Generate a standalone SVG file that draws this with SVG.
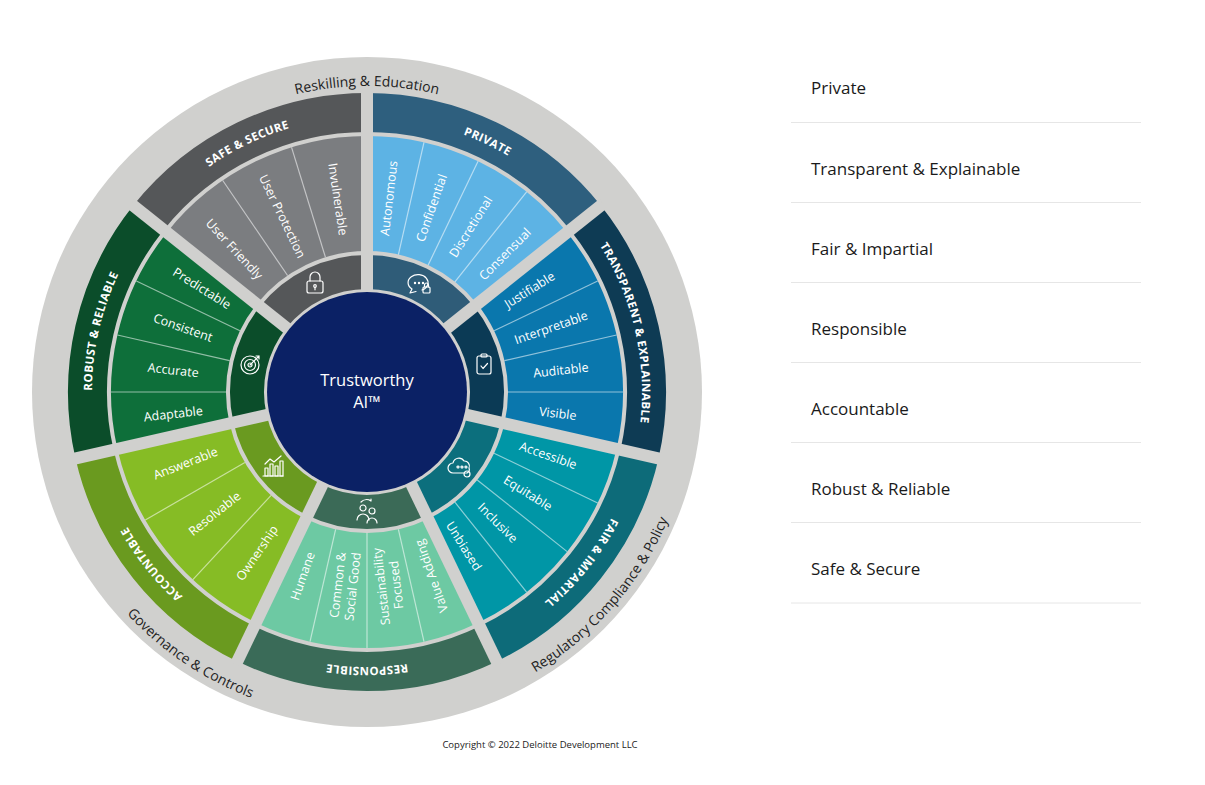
<svg xmlns="http://www.w3.org/2000/svg" width="1205" height="785" viewBox="0 0 1205 785">
<style>
.ring{fill:none}
.sub{font-family:"Open Sans",sans-serif;font-size:12.5px;fill:#fff;text-anchor:middle}
.band{font-family:"Open Sans",sans-serif;font-size:11.5px;font-weight:bold;fill:#fff;letter-spacing:0.4px}
.gr{font-family:"Open Sans",sans-serif;font-size:14px;fill:#222}
.div{stroke:#fff;stroke-opacity:0.55;stroke-width:1.2}
.gap{stroke:#d0d0ce;stroke-width:12}
.ic{fill:none;stroke:#fff;stroke-width:1.2;stroke-linecap:round;stroke-linejoin:round}
.lst{font-family:"Open Sans",sans-serif;font-size:17px;fill:#1a1a1a}
.sep{stroke:#e6e6e6;stroke-width:1}
</style>
<defs>
<path id="b0" d="M367,117 A275,275 0 0 1 582,220.5"/>
<path id="b1" d="M582,220.5 A275,275 0 0 1 635.1,453.2"/>
<path id="b2" d="M635.1,453.2 A275,275 0 0 1 486.3,639.8"/>
<path id="b3" d="M486.3,639.8 A275,275 0 0 1 247.7,639.8"/>
<path id="b4" d="M247.7,639.8 A275,275 0 0 1 98.9,453.2"/>
<path id="b5" d="M98.9,453.2 A275,275 0 0 1 152,220.5"/>
<path id="b6" d="M152,220.5 A275,275 0 0 1 367,117"/>
<path id="gtop" d="M170.3,157.6 A306,306 0 0 1 563.7,157.6"/>
<path id="gbot" d="M59.7,503.8 A327,327 0 0 0 674.3,503.8"/>
</defs>
<rect width="1205" height="785" fill="#fff"/>
<circle cx="367" cy="392" r="335" fill="#d0d0ce"/>

<g id="seg-private">
<circle class="ring" cx="367" cy="392" r="279.5" stroke="#2e5f7e" stroke-width="39" pathLength="360" stroke-dasharray="51.43 308.57" transform="rotate(-90 367 392)"/>
<circle class="ring" cx="367" cy="392" r="198.5" stroke="#5db3e4" stroke-width="115" pathLength="360" stroke-dasharray="51.43 308.57" transform="rotate(-90 367 392)"/>
<circle class="ring" cx="367" cy="392" r="120" stroke="#2f5c78" stroke-width="34" pathLength="360" stroke-dasharray="51.43 308.57" transform="rotate(-90 367 392)"/>
</g>
<g id="seg-transparent">
<circle class="ring" cx="367" cy="392" r="279.5" stroke="#0e3b54" stroke-width="39" pathLength="360" stroke-dasharray="51.43 308.57" transform="rotate(-38.57 367 392)"/>
<circle class="ring" cx="367" cy="392" r="198.5" stroke="#0a77ad" stroke-width="115" pathLength="360" stroke-dasharray="51.43 308.57" transform="rotate(-38.57 367 392)"/>
<circle class="ring" cx="367" cy="392" r="120" stroke="#0b3a55" stroke-width="34" pathLength="360" stroke-dasharray="51.43 308.57" transform="rotate(-38.57 367 392)"/>
</g>
<g id="seg-fair">
<circle class="ring" cx="367" cy="392" r="279.5" stroke="#0d6b79" stroke-width="39" pathLength="360" stroke-dasharray="51.43 308.57" transform="rotate(12.86 367 392)"/>
<circle class="ring" cx="367" cy="392" r="198.5" stroke="#0096a6" stroke-width="115" pathLength="360" stroke-dasharray="51.43 308.57" transform="rotate(12.86 367 392)"/>
<circle class="ring" cx="367" cy="392" r="120" stroke="#0c6f7d" stroke-width="34" pathLength="360" stroke-dasharray="51.43 308.57" transform="rotate(12.86 367 392)"/>
</g>
<g id="seg-responsible">
<circle class="ring" cx="367" cy="392" r="279.5" stroke="#3a6b58" stroke-width="39" pathLength="360" stroke-dasharray="51.43 308.57" transform="rotate(64.29 367 392)"/>
<circle class="ring" cx="367" cy="392" r="198.5" stroke="#6dc9a3" stroke-width="115" pathLength="360" stroke-dasharray="51.43 308.57" transform="rotate(64.29 367 392)"/>
<circle class="ring" cx="367" cy="392" r="120" stroke="#3b6a57" stroke-width="34" pathLength="360" stroke-dasharray="51.43 308.57" transform="rotate(64.29 367 392)"/>
</g>
<g id="seg-accountable">
<circle class="ring" cx="367" cy="392" r="279.5" stroke="#6a9a1f" stroke-width="39" pathLength="360" stroke-dasharray="51.43 308.57" transform="rotate(115.71 367 392)"/>
<circle class="ring" cx="367" cy="392" r="198.5" stroke="#86bc25" stroke-width="115" pathLength="360" stroke-dasharray="51.43 308.57" transform="rotate(115.71 367 392)"/>
<circle class="ring" cx="367" cy="392" r="120" stroke="#6a9a20" stroke-width="34" pathLength="360" stroke-dasharray="51.43 308.57" transform="rotate(115.71 367 392)"/>
</g>
<g id="seg-robust">
<circle class="ring" cx="367" cy="392" r="279.5" stroke="#0b4d2a" stroke-width="39" pathLength="360" stroke-dasharray="51.43 308.57" transform="rotate(167.14 367 392)"/>
<circle class="ring" cx="367" cy="392" r="198.5" stroke="#0e6f3a" stroke-width="115" pathLength="360" stroke-dasharray="51.43 308.57" transform="rotate(167.14 367 392)"/>
<circle class="ring" cx="367" cy="392" r="120" stroke="#0b4d2a" stroke-width="34" pathLength="360" stroke-dasharray="51.43 308.57" transform="rotate(167.14 367 392)"/>
</g>
<g id="seg-safe">
<circle class="ring" cx="367" cy="392" r="279.5" stroke="#555759" stroke-width="39" pathLength="360" stroke-dasharray="51.43 308.57" transform="rotate(218.57 367 392)"/>
<circle class="ring" cx="367" cy="392" r="198.5" stroke="#7b7d80" stroke-width="115" pathLength="360" stroke-dasharray="51.43 308.57" transform="rotate(218.57 367 392)"/>
<circle class="ring" cx="367" cy="392" r="120" stroke="#555759" stroke-width="34" pathLength="360" stroke-dasharray="51.43 308.57" transform="rotate(218.57 367 392)"/>
</g>

<g id="dividers">
<line class="div" x1="367" y1="251" x2="367" y2="136" transform="rotate(12.86 367 392)"/>
<line class="div" x1="367" y1="251" x2="367" y2="136" transform="rotate(25.71 367 392)"/>
<line class="div" x1="367" y1="251" x2="367" y2="136" transform="rotate(38.57 367 392)"/>
<line class="div" x1="367" y1="251" x2="367" y2="136" transform="rotate(64.29 367 392)"/>
<line class="div" x1="367" y1="251" x2="367" y2="136" transform="rotate(77.14 367 392)"/>
<line class="div" x1="367" y1="251" x2="367" y2="136" transform="rotate(90 367 392)"/>
<line class="div" x1="367" y1="251" x2="367" y2="136" transform="rotate(115.71 367 392)"/>
<line class="div" x1="367" y1="251" x2="367" y2="136" transform="rotate(128.57 367 392)"/>
<line class="div" x1="367" y1="251" x2="367" y2="136" transform="rotate(141.43 367 392)"/>
<line class="div" x1="367" y1="251" x2="367" y2="136" transform="rotate(167.14 367 392)"/>
<line class="div" x1="367" y1="251" x2="367" y2="136" transform="rotate(180 367 392)"/>
<line class="div" x1="367" y1="251" x2="367" y2="136" transform="rotate(192.86 367 392)"/>
<line class="div" x1="367" y1="251" x2="367" y2="136" transform="rotate(222.86 367 392)"/>
<line class="div" x1="367" y1="251" x2="367" y2="136" transform="rotate(240 367 392)"/>
<line class="div" x1="367" y1="251" x2="367" y2="136" transform="rotate(270 367 392)"/>
<line class="div" x1="367" y1="251" x2="367" y2="136" transform="rotate(282.86 367 392)"/>
<line class="div" x1="367" y1="251" x2="367" y2="136" transform="rotate(295.71 367 392)"/>
<line class="div" x1="367" y1="251" x2="367" y2="136" transform="rotate(325.71 367 392)"/>
<line class="div" x1="367" y1="251" x2="367" y2="136" transform="rotate(342.86 367 392)"/>
</g>

<g id="gaps">
<line class="gap" x1="367" y1="392" x2="367" y2="90"/>
<line class="gap" x1="367" y1="392" x2="367" y2="90" transform="rotate(51.43 367 392)"/>
<line class="gap" x1="367" y1="392" x2="367" y2="90" transform="rotate(102.86 367 392)"/>
<line class="gap" x1="367" y1="392" x2="367" y2="90" transform="rotate(154.29 367 392)"/>
<line class="gap" x1="367" y1="392" x2="367" y2="90" transform="rotate(205.71 367 392)"/>
<line class="gap" x1="367" y1="392" x2="367" y2="90" transform="rotate(257.14 367 392)"/>
<line class="gap" x1="367" y1="392" x2="367" y2="90" transform="rotate(308.57 367 392)"/>
</g>

<g id="center">
<circle cx="367" cy="392" r="100" fill="#0b2165"/>
<text x="367" y="386" font-family="Open Sans, sans-serif" font-size="16.5" fill="#fff" text-anchor="middle">Trustworthy</text>
<text x="367" y="408" font-family="Open Sans, sans-serif" font-size="16.5" fill="#fff" text-anchor="middle">AI™</text>
</g>

<g id="sub-labels">
<text class="sub" dy=".35em" transform="rotate(6.43 367 392) translate(367 197) rotate(-90)">Autonomous</text>
<text class="sub" dy=".35em" transform="rotate(19.29 367 392) translate(367 197) rotate(-90)">Confidential</text>
<text class="sub" dy=".35em" transform="rotate(32.14 367 392) translate(367 197) rotate(-90)">Discretional</text>
<text class="sub" dy=".35em" transform="rotate(45 367 392) translate(367 197) rotate(-90)">Consensual</text>
<text class="sub" dy=".35em" transform="rotate(57.86 367 392) translate(367 200) rotate(-90)">Justifiable</text>
<text class="sub" dy=".35em" transform="rotate(70.71 367 392) translate(367 197) rotate(-90)">Interpretable</text>
<text class="sub" dy=".35em" transform="rotate(83.57 367 392) translate(367 197) rotate(-90)">Auditable</text>
<text class="sub" dy=".35em" transform="rotate(96.43 367 392) translate(367 200) rotate(-90)">Visible</text>
<text class="sub" dy=".35em" transform="rotate(109.29 367 392) translate(367 200) rotate(-90)">Accessible</text>
<text class="sub" dy=".35em" transform="rotate(122.14 367 392) translate(367 202) rotate(-90)">Equitable</text>
<text class="sub" dy=".35em" transform="rotate(135 367 392) translate(367 207) rotate(-90)">Inclusive</text>
<text class="sub" dy=".35em" transform="rotate(147.86 367 392) translate(367 210) rotate(-90)">Unbiased</text>
<text class="sub" dy=".35em" transform="rotate(160.71 367 392) translate(367 197) rotate(90)">Value Adding</text>
<text class="sub" transform="rotate(173.57 367 392) translate(367 197) rotate(90)"><tspan x="0" dy="-0.25em">Sustainability</tspan><tspan x="0" dy="1.2em">Focused</tspan></text>
<text class="sub" transform="rotate(186.43 367 392) translate(367 197) rotate(90)"><tspan x="0" dy="-0.25em">Common &amp;</tspan><tspan x="0" dy="1.2em">Social Good</tspan></text>
<text class="sub" dy=".35em" transform="rotate(199.29 367 392) translate(367 197) rotate(90)">Humane</text>
<text class="sub" dy=".35em" transform="rotate(214.29 367 392) translate(367 197) rotate(90)">Ownership</text>
<text class="sub" dy=".35em" transform="rotate(231.43 367 392) translate(367 197) rotate(90)">Resolvable</text>
<text class="sub" dy=".35em" transform="rotate(248.57 367 392) translate(367 197) rotate(90)">Answerable</text>
<text class="sub" dy=".35em" transform="rotate(263.57 367 392) translate(367 197) rotate(90)">Adaptable</text>
<text class="sub" dy=".35em" transform="rotate(276.43 367 392) translate(367 197) rotate(90)">Accurate</text>
<text class="sub" dy=".35em" transform="rotate(289.29 367 392) translate(367 197) rotate(90)">Consistent</text>
<text class="sub" dy=".35em" transform="rotate(302.14 367 392) translate(367 197) rotate(90)">Predictable</text>
<text class="sub" dy=".35em" transform="rotate(317.14 367 392) translate(367 197) rotate(90)">User Friendly</text>
<text class="sub" dy=".35em" transform="rotate(334.29 367 392) translate(367 197) rotate(90)">User Protection</text>
<text class="sub" dy=".35em" transform="rotate(351.43 367 392) translate(367 197) rotate(90)">Invulnerable</text>
</g>

<g id="band-labels">
<text class="band"><textPath href="#b0" startOffset="50%" text-anchor="middle">PRIVATE</textPath></text>
<text class="band"><textPath href="#b1" startOffset="50%" text-anchor="middle">TRANSPARENT &amp; EXPLAINABLE</textPath></text>
<text class="band"><textPath href="#b2" startOffset="50%" text-anchor="middle">FAIR &amp; IMPARTIAL</textPath></text>
<text class="band"><textPath href="#b3" startOffset="50%" text-anchor="middle">RESPONSIBLE</textPath></text>
<text class="band"><textPath href="#b4" startOffset="50%" text-anchor="middle">ACCOUNTABLE</textPath></text>
<text class="band"><textPath href="#b5" startOffset="50%" text-anchor="middle">ROBUST &amp; RELIABLE</textPath></text>
<text class="band"><textPath href="#b6" startOffset="50%" text-anchor="middle">SAFE &amp; SECURE</textPath></text>
</g>

<g id="ring-labels">
<text class="gr"><textPath href="#gtop" startOffset="50%" text-anchor="middle">Reskilling &amp; Education</textPath></text>
<text class="gr"><textPath href="#gbot" startOffset="25.7%" text-anchor="middle">Governance &amp; Controls</textPath></text>
<text class="gr"><textPath href="#gbot" startOffset="85%" text-anchor="middle">Regulatory Compliance &amp; Policy</textPath></text>
</g>

<g id="icons">
<g class="ic" transform="translate(315 284)"><rect x="-8" y="-3" width="16" height="12" rx="2"/><path d="M-5,-3 v-4 a5,5 0 0 1 10,0 v4"/><circle cx="0" cy="2" r="1.3"/><path d="M0,3.3 v2.5"/></g>
<g class="ic" transform="translate(419 284)"><path d="M3,6 A10,8 0 1 0 -7,5 L-9,9 L-3,7.5"/><circle cx="-4" cy="-1" r="0.6"/><circle cx="0" cy="-1" r="0.6"/><circle cx="4" cy="-1" r="0.6"/><rect x="4" y="3" width="7" height="6" rx="1"/><path d="M5.5,3 v-2 a2,2 0 0 1 4,0 v2"/></g>
<g class="ic" transform="translate(484 365)"><rect x="-7" y="-9" width="14" height="18" rx="2"/><rect x="-3" y="-11" width="6" height="3" rx="1"/><path d="M-3,1 l2,2.5 l4.5,-5"/></g>
<g class="ic" transform="translate(461 467)"><path d="M-8,6 a5,5 0 0 1 0,-10 a6,6 0 0 1 11,-2 a5,5 0 0 1 5,7 a4,4 0 0 1 -2,5 z"/><circle cx="-3" cy="0" r="1"/><circle cx="1" cy="0" r="1"/><circle cx="5" cy="0" r="1"/><circle cx="6" cy="7" r="3"/></g>
<g class="ic" transform="translate(367 512)"><circle cx="-4" cy="-4" r="3"/><path d="M-10,8 a6,6 0 0 1 12,0"/><circle cx="5" cy="-1" r="3"/><path d="M0,11 a5,5 0 0 1 10,0"/><path d="M-6,-10 a8,8 0 0 1 10,-1 l0,-2"/></g>
<g class="ic" transform="translate(273 467)"><path d="M-10,9 h20"/><rect x="-8" y="1" width="3" height="8"/><rect x="-3" y="-3" width="3" height="12"/><rect x="2" y="-1" width="3" height="10"/><rect x="7" y="-6" width="3" height="15"/><path d="M-8,-3 l5,-5 l4,3 l7,-6"/></g>
<g class="ic" transform="translate(250 365)"><circle r="9"/><circle r="5.5"/><circle r="2"/><path d="M0,0 l9,-9 m0,0 h-3 m3,0 v3"/></g>
</g>

<text x="540" y="748" font-family="Open Sans, sans-serif" font-size="9.5" fill="#222" text-anchor="middle">Copyright © 2022 Deloitte Development LLC</text>

<g id="legend">
<text class="lst" x="811" y="94">Private</text>
<line class="sep" x1="791" y1="122.5" x2="1141" y2="122.5"/>
<text class="lst" x="811" y="175">Transparent &amp; Explainable</text>
<line class="sep" x1="791" y1="202.5" x2="1141" y2="202.5"/>
<text class="lst" x="811" y="255">Fair &amp; Impartial</text>
<line class="sep" x1="791" y1="282.5" x2="1141" y2="282.5"/>
<text class="lst" x="811" y="335">Responsible</text>
<line class="sep" x1="791" y1="362.5" x2="1141" y2="362.5"/>
<text class="lst" x="811" y="415">Accountable</text>
<line class="sep" x1="791" y1="442.5" x2="1141" y2="442.5"/>
<text class="lst" x="811" y="495">Robust &amp; Reliable</text>
<line class="sep" x1="791" y1="522.5" x2="1141" y2="522.5"/>
<text class="lst" x="811" y="575">Safe &amp; Secure</text>
<line class="sep" x1="791" y1="603" x2="1141" y2="603"/>
</g>
</svg>
